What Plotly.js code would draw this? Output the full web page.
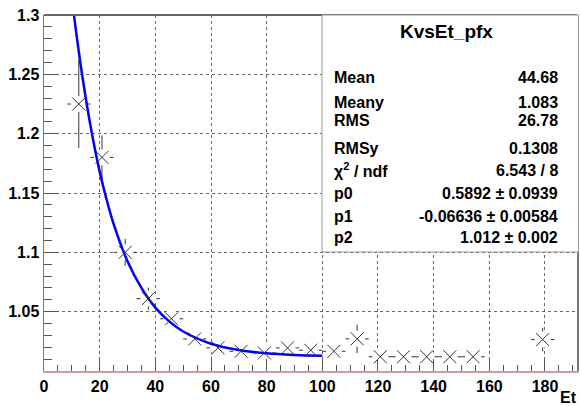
<!DOCTYPE html>
<html>
<head>
<meta charset="utf-8">
<script src="https://cdn.plot.ly/plotly-3.0.1.min.js"></script>
<style>html,body{margin:0;padding:0;background:#fff;}#chart{width:580px;height:406px;}</style>
</head>
<body>
<div id="chart"></div>
<script>
// ---- data ----
const etBins = [12.5, 20.83, 29.17, 37.5, 45.83, 54.17, 62.5, 70.83, 79.17, 87.5, 95.83, 104.17, 112.5, 120.83, 129.17, 137.5, 145.83, 154.17, 179.17];
const kValues = [1.225, 1.180, 1.100, 1.061, 1.044, 1.027, 1.0195, 1.0166, 1.0152, 1.0195, 1.0175, 1.0166, 1.0271, 1.012, 1.012, 1.012, 1.012, 1.012, 1.0265];
const kErrors = [0.037, 0.0185, 0.0113, 0.0093, 0.006, 0.005, 0.004, 0.004, 0.004, 0.005, 0.005, 0.005, 0.012, 0.006, 0.006, 0.006, 0.006, 0.006, 0.0099];
const binHalfWidth = 4.1667;

const fitEt = [8, 10, 12.5, 15, 17.5, 20, 22.5, 25, 30, 35, 40, 45, 50, 60, 70, 80, 90, 100];
const fitK = [1.358, 1.315, 1.269, 1.230, 1.1965, 1.168, 1.1444, 1.124, 1.0925, 1.070, 1.0534, 1.0418, 1.0333, 1.023, 1.0177, 1.0149, 1.0135, 1.0128];

const xTickVals = [0, 20, 40, 60, 80, 100, 120, 140, 160, 180];
const xTickText = ['0', '20', '40', '60', '80', '100', '120', '140', '160', '180'];
const yTickVals = [1.05, 1.1, 1.15, 1.2, 1.25, 1.3];
const yTickText = ['1.05', '1.1', '1.15', '1.2', '1.25', '1.3'];

const statTitle = 'KvsEt_pfx';
const statLabels = ['Mean', 'Meany', 'RMS', 'RMSy', '\u03c7<sup>2</sup> / ndf', 'p0', 'p1', 'p2'];
const statValues = ['44.68', '1.083', '26.78', '0.1308', '6.543 / 8', '0.5892 \u00b1 0.0939', '-0.06636 \u00b1 0.00584', '1.012 \u00b1 0.002'];

// ---- layout helpers (pixel -> paper) ----
const W = 580, H = 406;
const M = {l: 44, r: 3, t: 15, b: 35};
const PW = W - M.l - M.r, PH = H - M.t - M.b;
const px = v => (v - M.l) / PW;
const py = v => (H - M.b - v) / PH;

const FONT = 'Liberation Sans, Arial, Helvetica, sans-serif';
const statRowsY = [77, 102, 121, 148.5, 170, 193, 216, 238];

const traces = [
  { // error bars with a white mask at the marker centre
    x: etBins, y: kValues, type: 'scatter', mode: 'markers',
    marker: {symbol: 'circle', size: 16, color: '#ffffff', line: {width: 0}},
    error_y: {type: 'data', array: kErrors, visible: true, color: '#333', thickness: 1, width: 0},
    error_x: {type: 'constant', value: binHalfWidth, visible: true, color: '#333', thickness: 1, width: 0},
    hoverinfo: 'skip', showlegend: false
  },
  { // fit curve
    x: fitEt, y: fitK, type: 'scatter', mode: 'lines',
    line: {color: '#0000ff', width: 2.5, shape: 'spline', smoothing: 1},
    showlegend: false
  },
  { // profile markers
    x: etBins, y: kValues, type: 'scatter', mode: 'markers',
    marker: {symbol: 'x-thin-open', size: 13, color: '#333', line: {color: '#333', width: 1}},
    showlegend: false
  }
];

const annotations = [];
annotations.push({xref: 'paper', yref: 'paper', x: px(446.7), y: py(31.7), text: statTitle, showarrow: false,
  xanchor: 'center', yanchor: 'middle', font: {family: FONT, size: 19, color: '#000', weight: 'bold'}});
statLabels.forEach((t, i) => {
  annotations.push({xref: 'paper', yref: 'paper', x: px(332), y: py(statRowsY[i]), text: t, showarrow: false,
    xanchor: 'left', yanchor: 'middle', font: {family: FONT, size: 16, color: '#000', weight: 'bold'}});
  annotations.push({xref: 'paper', yref: 'paper', x: px(560), y: py(statRowsY[i]), text: statValues[i], showarrow: false,
    xanchor: 'right', yanchor: 'middle', font: {family: FONT, size: 16, color: '#000', weight: 'bold'}});
});
annotations.push({xref: 'paper', yref: 'paper', x: px(579), y: py(397.5), text: 'Et', showarrow: false,
  xanchor: 'right', yanchor: 'middle', font: {family: FONT, size: 16, color: '#000', weight: 'bold'}});

const shapes = [
  {type: 'line', xref: 'paper', yref: 'paper', x0: 0, x1: 1, y0: 1, y1: 1, line: {color: '#666', width: 2}, layer: 'above'},
  {type: 'rect', xref: 'paper', yref: 'paper', x0: px(322), x1: px(578.5), y0: py(252), y1: 1,
    fillcolor: '#ffffff', line: {color: '#999', width: 1}, layer: 'above'}
];

const layout = {
  width: W, height: H,
  margin: M,
  paper_bgcolor: '#fff', plot_bgcolor: '#fff',
  showlegend: false,
  xaxis: {
    range: [0, 191.5], tickmode: 'array', tickvals: xTickVals, ticktext: xTickText,
    ticks: 'inside', ticklen: 12, tickwidth: 1, tickcolor: '#555',
    minor: {tickmode: 'linear', tick0: 0, dtick: 5, ticks: 'inside', ticklen: 6, tickwidth: 1, tickcolor: '#555', showgrid: false},
    showgrid: true, gridcolor: '#666', griddash: 'dot', gridwidth: 1,
    showline: true, linecolor: '#d09898', linewidth: 1.5, mirror: false,
    zeroline: false,
    tickfont: {family: FONT, size: 16, color: '#000', weight: 'bold'}
  },
  yaxis: {
    range: [1.0, 1.3], tickmode: 'array', tickvals: yTickVals, ticktext: yTickText,
    ticks: 'inside', ticklen: 15, tickwidth: 1, tickcolor: '#555',
    minor: {tickmode: 'linear', tick0: 1.0, dtick: 0.01, ticks: 'inside', ticklen: 8, tickwidth: 1, tickcolor: '#555', showgrid: false},
    showgrid: true, gridcolor: '#666', griddash: 'dot', gridwidth: 1,
    showline: true, linecolor: '#777', linewidth: 1.5, mirror: true,
    zeroline: false,
    tickfont: {family: FONT, size: 16, color: '#000', weight: 'bold'}
  },
  annotations: annotations,
  shapes: shapes
};

Plotly.newPlot('chart', traces, layout, {staticPlot: true, displayModeBar: false});
</script>
</body>
</html>
